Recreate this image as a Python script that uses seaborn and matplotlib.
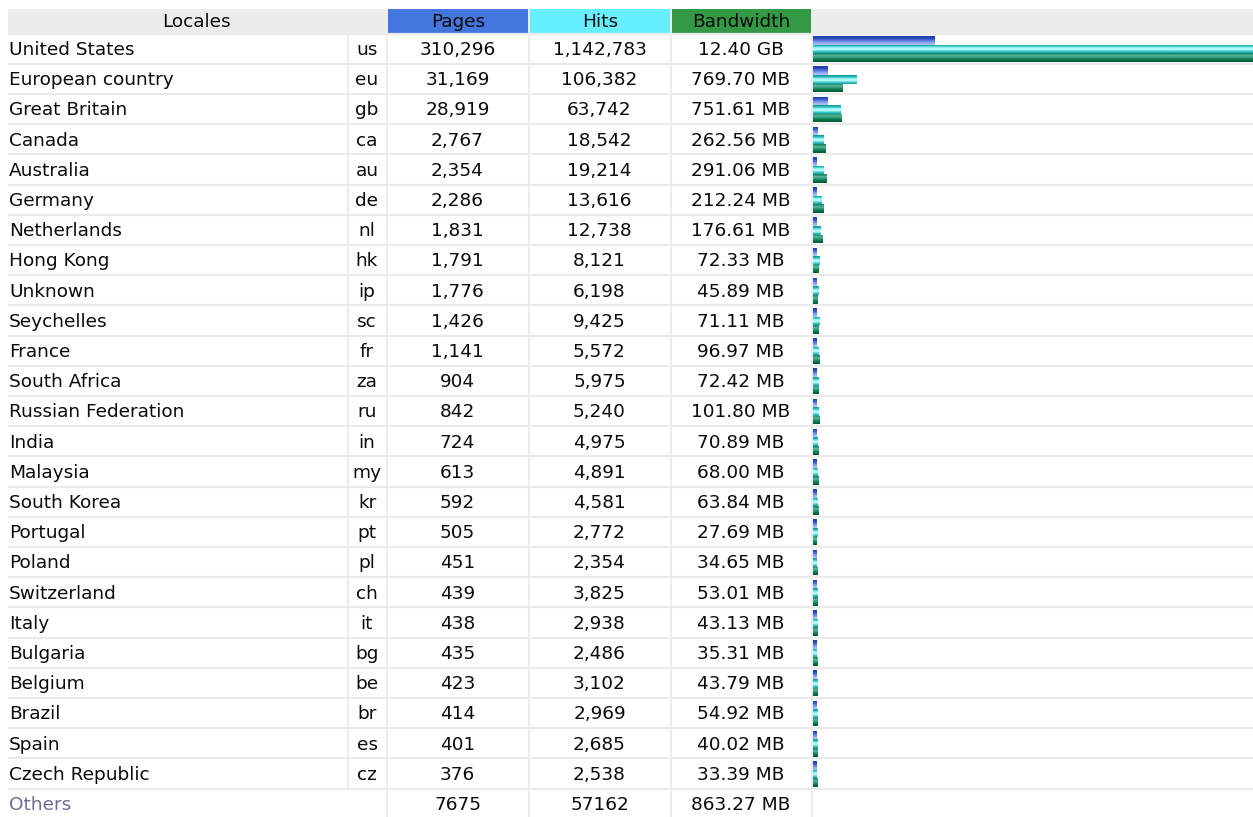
import numpy as np
import pandas as pd
import seaborn as sns
import matplotlib.pyplot as plt
from matplotlib.patches import Rectangle
from matplotlib.colors import to_rgb

# table data
countries = ["United States", "European country", "Great Britain", "Canada", "Australia",
             "Germany", "Netherlands", "Hong Kong", "Unknown", "Seychelles", "France",
             "South Africa", "Russian Federation", "India", "Malaysia", "South Korea",
             "Portugal", "Poland", "Switzerland", "Italy", "Bulgaria", "Belgium", "Brazil",
             "Spain", "Czech Republic"]
codes = ["us", "eu", "gb", "ca", "au", "de", "nl", "hk", "ip", "sc", "fr", "za", "ru",
         "in", "my", "kr", "pt", "pl", "ch", "it", "bg", "be", "br", "es", "cz"]
pages = [310296, 31169, 28919, 2767, 2354, 2286, 1831, 1791, 1776, 1426, 1141, 904, 842,
         724, 613, 592, 505, 451, 439, 438, 435, 423, 414, 401, 376]
hits = [1142783, 106382, 63742, 18542, 19214, 13616, 12738, 8121, 6198, 9425, 5572, 5975,
        5240, 4975, 4891, 4581, 2772, 2354, 3825, 2938, 2486, 3102, 2969, 2685, 2538]
bandwidth_mb = [12697.6, 769.70, 751.61, 262.56, 291.06, 212.24, 176.61, 72.33, 45.89,
                71.11, 96.97, 72.42, 101.80, 70.89, 68.00, 63.84, 27.69, 34.65, 53.01,
                43.13, 35.31, 43.79, 54.92, 40.02, 33.39]
others_pages = 7675
others_hits = 57162
others_bw_mb = 863.27

W, H = 1253, 817
ROW_TOP = 34
ROW_H = 30.2
GRID = "#ebebeb"
FONT = 13.3
INK = "#0a0a0a"


def fmt_bw(mb):
    if mb >= 1024:
        return f"{mb / 1024:.2f} GB"
    return f"{mb:.2f} MB"


plt.rcParams['font.family'] = ['DejaVu Sans']
fig = plt.figure(figsize=(W / 100, H / 100), dpi=100)

# background axes in pixel coordinates for the table itself
tab = fig.add_axes([0, 0, 1, 1])
tab.set_xlim(0, W)
tab.set_ylim(H, 0)
tab.set_axis_off()

# header
tab.add_patch(Rectangle((8, 9), W - 8, 24, color="#ececec", lw=0))
headers = [("Pages", 388, 527.5, "#4477dd"), ("Hits", 530, 669.5, "#66f0ff"),
           ("Bandwidth", 671.5, 811, "#339944")]
tab.text(196, 21.5, "Locales", ha="center", va="center", fontsize=FONT, color=INK)
for label, x0, x1, col in headers:
    tab.add_patch(Rectangle((x0, 9), x1 - x0, 24, color=col, lw=0))
    tab.text((x0 + x1) / 2, 21.5, label, ha="center", va="center", fontsize=FONT, color=INK)

# grid lines
n = len(countries)
for k in range(n + 1):
    y = ROW_TOP + ROW_H * k - 0.5
    tab.hlines(y, 8, W, color=GRID, lw=1.6)
tab.vlines(347.5, ROW_TOP, ROW_TOP + ROW_H * n, color=GRID, lw=1.3)
for x in [387, 529, 670.5, 812]:
    tab.vlines(x, ROW_TOP, H, color=GRID, lw=1.3)

# rows
for k in range(n):
    yc = ROW_TOP + ROW_H * k + 16
    tab.text(9, yc, countries[k], ha="left", va="center", fontsize=FONT, color=INK)
    tab.text(367, yc, codes[k], ha="center", va="center", fontsize=FONT, color=INK)
    tab.text(457.5, yc, f"{pages[k]:,}", ha="center", va="center", fontsize=FONT, color=INK)
    tab.text(599.5, yc, f"{hits[k]:,}", ha="center", va="center", fontsize=FONT, color=INK)
    tab.text(740.5, yc, fmt_bw(bandwidth_mb[k]), ha="center", va="center", fontsize=FONT,
             color=INK)

yc = ROW_TOP + ROW_H * n + 16
tab.text(9, yc, "Others", ha="left", va="center", fontsize=FONT, color="#6c6c96")
tab.text(457.5, yc, str(others_pages), ha="center", va="center", fontsize=FONT, color=INK)
tab.text(599.5, yc, str(others_hits), ha="center", va="center", fontsize=FONT, color=INK)
tab.text(740.5, yc, fmt_bw(others_bw_mb), ha="center", va="center", fontsize=FONT,
         color=INK)

# bar column: pages and hits scaled by max hits, bandwidth by max bandwidth
BAR_X0, BAR_W = 813, 440
min_frac = 3 / BAR_W
max_h = max(hits)
max_bw = max(bandwidth_mb)
rows = []
for k in range(n):
    rows.append((countries[k], "Pages", pages[k] / max_h))
    rows.append((countries[k], "Hits", hits[k] / max_h))
    rows.append((countries[k], "Bandwidth", bandwidth_mb[k] / max_bw))
df = pd.DataFrame(rows, columns=["country", "metric", "frac"])
df["shown"] = min_frac + df["frac"] * (1 - min_frac)

bar_ax = fig.add_axes([BAR_X0 / W, 1 - (ROW_TOP + ROW_H * n) / H, BAR_W / W, ROW_H * n / H])
sns.barplot(data=df, x="shown", y="country", hue="metric", order=countries,
            hue_order=["Pages", "Hits", "Bandwidth"], orient="h", width=0.86, gap=0,
            dodge=True, legend=False, ax=bar_ax, saturation=1,
            palette=["#4466cc", "#66ddee", "#229977"], linewidth=0)

# stripe gradients like the original bar images
stripes = {
    "Pages": ["#1c3fae", "#2d52c4", "#5878da", "#8aa2ec", "#a9bcf4"],
    "Hits": ["#119f9f", "#3cc8c8", "#9cf6f6", "#c4ffff", "#5edada", "#19aaaa"],
    "Bandwidth": ["#1a8c68", "#58b49a", "#2e9a78", "#0f7a4e", "#005f32"],
}
metric_of = {}
for cont, met in zip(bar_ax.containers, ["Pages", "Hits", "Bandwidth"]):
    for p in cont:
        metric_of[id(p)] = met
for p in list(bar_ax.patches):
    met = metric_of.get(id(p))
    if met is None:
        continue
    x0, y0, w, h = p.get_x(), p.get_y(), p.get_width(), p.get_height()
    grad = np.array([to_rgb(c) for c in stripes[met]])[:, None, :]
    im = bar_ax.imshow(grad, extent=(x0, x0 + w, y0 + h, y0), aspect="auto",
                       interpolation="bilinear", origin="upper", zorder=3)
    im.set_clip_path(p)
bar_ax.set_xlim(0, 1)
bar_ax.set_ylim(n - 0.5, -0.5)
bar_ax.set_axis_off()
bar_ax.patch.set_alpha(0)

fig.savefig("out.png", dpi=100)
